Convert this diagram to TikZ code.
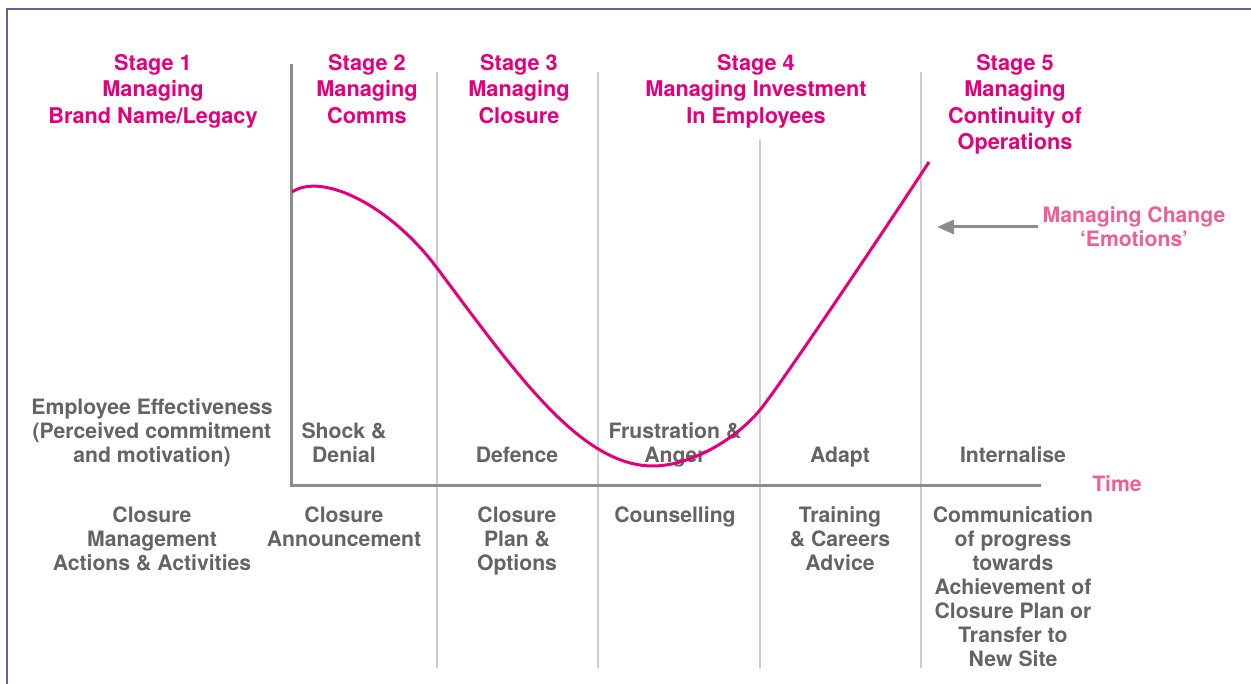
\documentclass[tikz,border=0pt]{standalone}
\usepackage{fontspec}
\setmainfont{TeX Gyre Heros}
\usetikzlibrary{arrows.meta,positioning}
\definecolor{stagepink}{RGB}{228,0,124}
\definecolor{softpink}{RGB}{236,96,152}
\definecolor{textgrey}{RGB}{100,100,100}
\definecolor{axisgrey}{RGB}{140,140,140}
\definecolor{divgrey}{RGB}{205,205,205}
\definecolor{framelilac}{RGB}{98,98,152}

\begin{document}
\begin{tikzpicture}[x=1pt, y=-1pt,
    stagetxt/.style={font=\fontsize{21.7}{26.5}\selectfont\bfseries, text=stagepink, align=center, anchor=north, inner sep=0pt},
    greytxt/.style={font=\fontsize{21.2}{24}\selectfont\bfseries, text=textgrey, align=center, anchor=north, inner sep=0pt},
    softtxt/.style={font=\fontsize{21.2}{24}\selectfont\bfseries, text=softpink, align=center, inner sep=0pt},
    divider/.style={divgrey, line width=1.5pt},
    axisline/.style={axisgrey, line width=3pt}]
    \useasboundingbox (0,0) rectangle (1251,684);

    % Frame
    \draw[framelilac, line width=2.5pt] (7,684) -- (7,9) -- (1251,9);

    % Stage dividers
    \draw[divider] (437,72) -- (437,668);
    \draw[divider] (598,72) -- (598,668);
    \draw[divider] (760,140) -- (760,668);
    \draw[divider] (921,72) -- (921,668);

    % Axes
    \draw[axisline] (291,64) -- (291,486) -- (1041,486);

    % Stages
    \node[stagetxt] (stage1) at (153,54) {Stage 1\\Managing\\Brand Name/Legacy};
    \node[stagetxt] (stage2) at (367,54) {Stage 2\\Managing\\Comms};
    \node[stagetxt] (stage3) at (519,54) {Stage 3\\Managing\\Closure};
    \node[stagetxt] (stage4) at (756,54) {Stage 4\\Managing Investment\\In Employees};
    \node[stagetxt] (stage5) at (1015,54) {Stage 5\\Managing\\Continuity of\\Operations};

    % Emotions
    \node[greytxt] (effect) at (152,399) {Employee Effectiveness\\(Perceived commitment\\and motivation)};
    \node[greytxt] (shock) at (344,423) {Shock \&\\Denial};
    \node[greytxt] (defence) at (517,447) {Defence};
    \node[greytxt] (anger) at (675,423) {Frustration \&\\Anger};
    \node[greytxt] (adapt) at (840,447) {Adapt};
    \node[greytxt] (intern) at (1013,447) {Internalise};
    \node[softtxt] (time) at (1117,484) {Time};

    % Actions
    \node[greytxt] (actions) at (152,507) {Closure\\Management\\Actions \& Activities};
    \node[greytxt] (announce) at (344,507) {Closure\\Announcement};
    \node[greytxt] (plan) at (517,507) {Closure\\Plan \&\\Options};
    \node[greytxt] (counsel) at (675,507) {Counselling};
    \node[greytxt] (training) at (840,507) {Training\\\& Careers\\Advice};
    \node[greytxt] (comms) at (1013,507) {Communication\\of progress\\towards\\Achievement of\\Closure Plan or\\Transfer to\\New Site};

    % Change curve
    \draw[stagepink, line width=3pt] (292,192)
      .. controls (322,172) and (390,205) .. (437,268)
      .. controls (515,372) and (580,466) .. (653,466)
      .. controls (690,466) and (735,440) .. (760,410)
      .. controls (776,391) and (880,237) .. (929,162);

    % Managing change label and arrow
    \node[softtxt, inner xsep=4pt] (emo) at (1134,227) {Managing Change\\`Emotions'};
    \coordinate (emotip) at (937,227);
    \draw[axisgrey, line width=3pt, -{Triangle[length=17pt,width=14pt]}] (emo.west) -- (emotip);
\end{tikzpicture}
\end{document}
